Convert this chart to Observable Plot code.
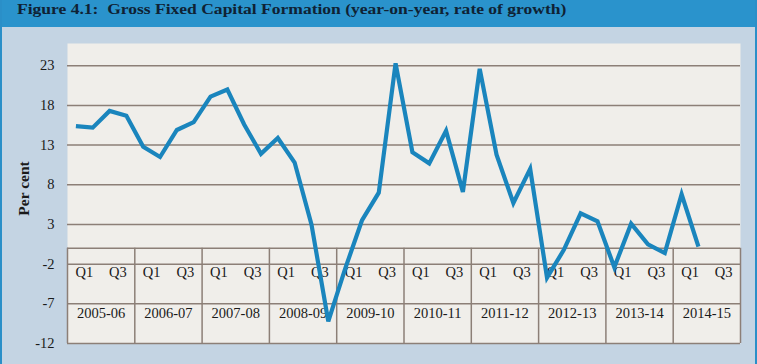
<!DOCTYPE html>
<html>
<head>
<meta charset="utf-8">
<script src="https://cdn.jsdelivr.net/npm/d3@7"></script>
<script src="https://cdn.jsdelivr.net/npm/@observablehq/plot@0.6"></script>
<style>
  html, body { margin: 0; padding: 0; background: #c4d4e3; }
  #wrap { position: relative; width: 757px; height: 364px; background: #c4d4e3; overflow: hidden; }
  #title { height: 27px; line-height: 28px; background: #2a93cc; color: #0f2234;
           font: bold 15.5px "Liberation Serif", "DejaVu Serif", serif; padding-left: 17px; white-space: nowrap; }
  #title span { display: inline-block; transform: scaleX(1.13); transform-origin: left center; }
  .edge { position: absolute; top: 0; width: 2px; height: 364px; background: #2a8fc8; }
  svg { display: block; }
</style>
</head>
<body>
<div id="wrap">
  <div id="title"><span>Figure 4.1:&nbsp; Gross Fixed Capital Formation (year-on-year, rate of growth)</span></div>
  <div id="chart"></div>
  <div class="edge" style="left:0"></div>
  <div class="edge" style="right:0"></div>
</div>
<script>
// Fiscal years on the x axis
const years = ["2005-06","2006-07","2007-08","2008-09","2009-10","2010-11","2011-12","2012-13","2013-14","2014-15"];
// Quarter labels shown in each year cell
const quarterLabels = ["Q1","Q3"];
// Quarterly GFCF growth (per cent), 2005-06 Q1 .. 2014-15 Q2
const growth = [
  15.4, 15.2, 17.3, 16.7,
  12.8, 11.5, 14.9, 15.9,
  19.1, 20.0, 15.6, 11.9,
  13.9, 10.8, 3.0, -9.2,
  -2.6, 3.5, 7.0, 23.3,
  12.1, 10.7, 14.8, 7.1,
  22.6, 11.8, 5.7, 10.0,
  -3.7, -0.2, 4.4, 3.4,
  -2.4, 3.1, 0.5, -0.6,
  6.8, 0.2
];
// Y axis tick values
const yTicks = [-12, -7, -2, 3, 8, 13, 18, 23];
// Table lines below the zero line
const tableRows = [0, -2, -7, -12];

const serif = "Liberation Serif, DejaVu Serif, serif";
const gridColor = "#8c7f77";

const lineData = growth.map((v, i) => ({q: i + 0.5, v}));
const qLabelData = years.flatMap((y, k) => quarterLabels.map((lab, j) => ({x: k * 4 + 1 + j * 2, lab})));
const yearData = years.map((y, k) => ({x: k * 4 + 2, y}));
const sepData = d3.range(years.length + 1).map(k => ({x: k * 4}));

const chart = Plot.plot({
  width: 757,
  height: 337,
  marginLeft: 67,
  marginRight: 17,
  marginTop: 16,
  marginBottom: 21,
  style: {background: "transparent", fontFamily: serif, color: "#1a1a1a"},
  x: {domain: [0, 40], axis: null},
  y: {domain: [-12, 25.8], axis: null},
  marks: [
    Plot.frame({fill: "#f0eeea", stroke: null}),
    Plot.ruleY(yTicks.filter(t => t > 0), {stroke: gridColor, strokeWidth: 1.5}),
    Plot.ruleY(tableRows, {stroke: gridColor, strokeWidth: 1.5}),
    Plot.ruleX(sepData, {x: "x", y1: -12, y2: 0, stroke: gridColor, strokeWidth: 1.5}),
    Plot.text(qLabelData, {x: "x", y: -3.05, text: "lab", fontSize: 14.5, fontFamily: serif, fill: "#1a1a1a"}),
    Plot.text(yearData, {x: "x", y: -8.25, text: "y", fontSize: 14.5, fontFamily: serif, fill: "#1a1a1a"}),
    Plot.line(lineData, {x: "q", y: "v", stroke: "#1a85bd", strokeWidth: 4.2,
      strokeLinejoin: "miter", strokeMiterlimit: 4, strokeLinecap: "butt"}),
    Plot.axisY({ticks: yTicks, tickFormat: d => String(d), tickSize: 0, tickPadding: 13,
      fontSize: 14.5, fontFamily: serif, label: null}),
    Plot.text(["Per cent"], {frameAnchor: "left", textAnchor: "middle", dx: -43, dy: -5, rotate: -90,
      fontSize: 15.5, fontWeight: "bold", fontFamily: serif, fill: "#1a1a1a"})
  ]
});
document.getElementById("chart").appendChild(chart);
</script>
</body>
</html>
